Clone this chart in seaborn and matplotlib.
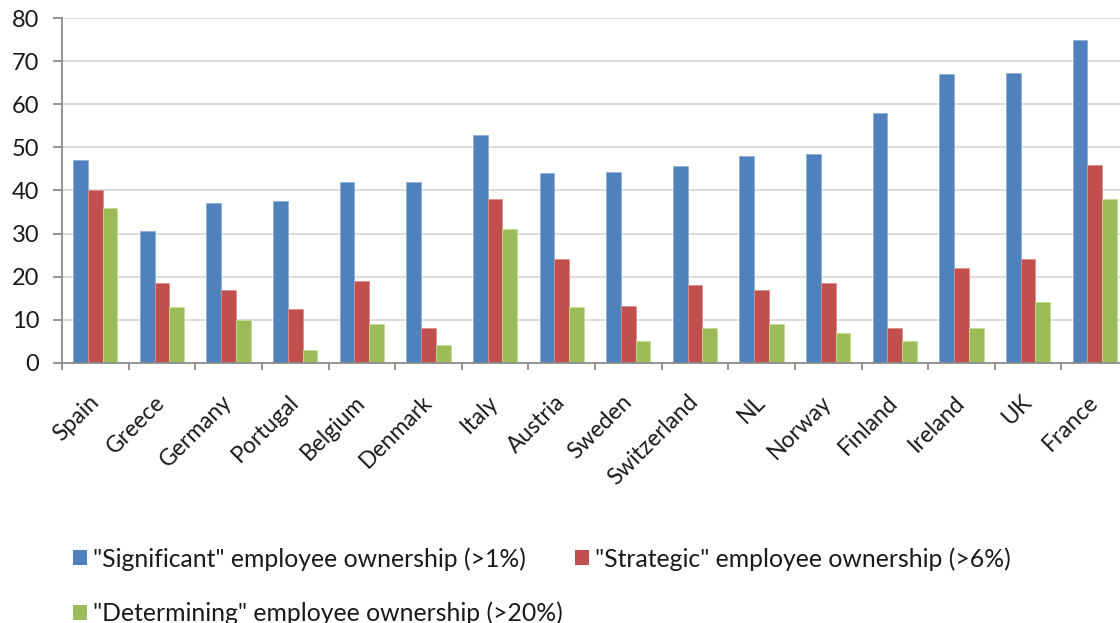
import matplotlib
matplotlib.use("Agg")
import matplotlib.pyplot as plt
from matplotlib.patches import Patch
from matplotlib.ticker import FixedLocator
import numpy as np
import pandas as pd
import seaborn as sns

countries = ["Spain", "Greece", "Germany", "Portugal", "Belgium", "Denmark",
             "Italy", "Austria", "Sweden", "Switzerland", "NL", "Norway",
             "Finland", "Ireland", "UK", "France"]
significant = [47, 30.7, 37, 37.5, 42, 42, 53, 44, 44.2, 45.6, 48, 48.5, 58, 67, 67.4, 75]
strategic = [40, 18.6, 17, 12.4, 19, 8, 38, 24, 13.2, 18.1, 17, 18.5, 8, 22, 24, 46]
determining = [36, 13, 10, 3, 9, 4, 31, 13, 5, 8, 9, 7, 5, 8, 14, 38]

series_names = ['"Significant" employee ownership (>1%)',
                '"Strategic" employee ownership (>6%)',
                '"Determining" employee ownership (>20%)']
colors = ["#4F81BD", "#C0504D", "#9BBB59"]
edge_colors = ["#8FB0DA", "#DE8F8C", "#C4DB97"]

df = pd.DataFrame({
    "country": countries * 3,
    "value": significant + strategic + determining,
    "series": [series_names[0]] * len(countries)
              + [series_names[1]] * len(countries)
              + [series_names[2]] * len(countries),
})

sns.set_theme(style="white")
plt.rcParams["font.family"] = ["Lato", "DejaVu Sans"]

fig = plt.figure(figsize=(11.2, 6.23), dpi=100)
ax = fig.add_axes([62 / 1120, 1 - 362.7 / 623, 1066 / 1120, 344.4 / 623])

sns.barplot(data=df, x="country", y="value", hue="series", order=countries,
            hue_order=series_names, palette=colors, width=0.665, gap=0,
            saturation=1, ax=ax, legend=False, linewidth=0)

# light rims on each bar
for container, ec in zip(ax.containers, edge_colors):
    for bar in container:
        bar.set_edgecolor(ec)
        bar.set_linewidth(0.6)

ax.set_ylim(0, 80)
ax.set_xlim(-0.5, len(countries) - 0.5)
ax.set_yticks(np.arange(0, 81, 10))
ax.yaxis.grid(True, color="#D9D9D9", linewidth=1.3)
ax.set_axisbelow(True)
ax.set_xlabel("")
ax.set_ylabel("")

for side in ["top", "right"]:
    ax.spines[side].set_visible(False)
for side in ["left", "bottom"]:
    ax.spines[side].set_color("#8C8C8C")
    ax.spines[side].set_linewidth(1.3)

ax.tick_params(axis="y", which="major", left=True, length=6.5, width=1.3,
               color="#8C8C8C", pad=10, labelsize=17, labelcolor="#1A1A1A")
ax.tick_params(axis="x", which="major", bottom=False, length=0, pad=26,
               labelsize=16.5, labelcolor="#1A1A1A")
ax.xaxis.set_minor_locator(FixedLocator(np.arange(-0.5, len(countries), 1.0)))
ax.tick_params(axis="x", which="minor", bottom=True, length=5, width=1.3,
               color="#8C8C8C")

for lbl in ax.get_xticklabels():
    lbl.set_rotation(45)
    lbl.set_ha("right")
    lbl.set_va("center")
    lbl.set_rotation_mode("anchor")

handles = [Patch(facecolor=c, edgecolor="none") for c in colors]
order = [0, 2, 1]
fig.legend([handles[i] for i in order], [series_names[i] for i in order],
           loc="upper left", bbox_to_anchor=(73 / 1120, 1 - 547 / 623),
           ncol=2, frameon=False, fontsize=17.8, handlelength=0.56,
           handleheight=0.56, handletextpad=0.25, columnspacing=0.5,
           labelspacing=1.25, borderaxespad=0, borderpad=0,
           labelcolor="#1A1A1A")

fig.savefig("out.png", dpi=100)
